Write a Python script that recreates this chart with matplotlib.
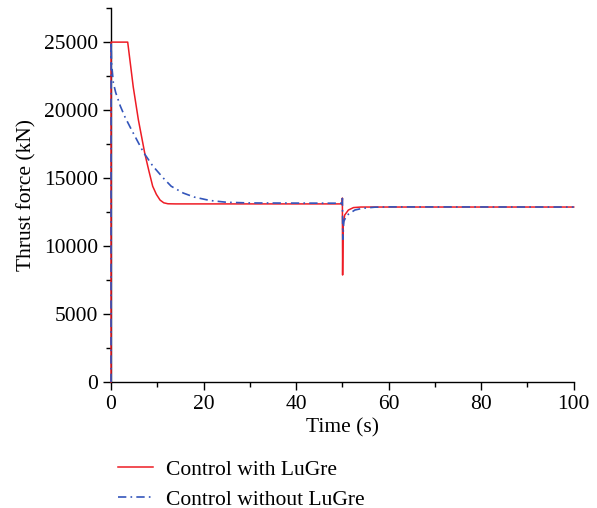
import matplotlib
matplotlib.use("Agg")
import matplotlib.pyplot as plt
from matplotlib.ticker import MultipleLocator

# Thrust force histories (time in s, force in kN)
t_lugre = [0, 0.001, 3.6, 4.8, 5.9, 7.3, 8.2, 9.0, 9.8, 10.6, 11.4, 12.3, 14.0,
           49.95, 50.0, 50.05, 50.15, 50.5, 51.3, 52.4, 54.0, 100]
f_lugre = [0, 25000, 25000, 21700, 19300, 16800, 15500, 14400, 13800, 13380, 13180, 13110, 13100,
           13100, 13530, 7870, 11500, 12280, 12650, 12830, 12870, 12870]

t_plain = [0, 0.02, 0.1, 0.5, 1.0, 2.0, 3.0, 4.5, 7.0, 9.0, 11.3, 13.0, 15.6, 18.0, 21.4,
           25.0, 30.0, 49.95, 50.0, 50.1, 50.3, 50.9, 52.7, 54.4, 57.0, 60.0, 100]
f_plain = [0, 25000, 23500, 22000, 21300, 20300, 19500, 18500, 16900, 15900, 15000, 14400,
           13900, 13600, 13350, 13220, 13170, 13150, 13500, 10500, 11800, 12250, 12650, 12780,
           12860, 12880, 12870]

series_labels = ["Control with LuGre", "Control without LuGre"]
x_label = "Time (s)"
y_label = "Thrust force (kN)"

plt.rcParams["font.family"] = ["Liberation Serif", "DejaVu Serif"]
plt.rcParams["font.size"] = 15.5

fig = plt.figure(figsize=(5.97, 5.08), dpi=100)
ax = fig.add_axes([0.186, 0.248, 0.775, 0.736])

l1, = ax.plot(t_lugre, f_lugre, color="#ee1c25", lw=1.1, label=series_labels[0],
              zorder=3, clip_on=False)
l2, = ax.plot(t_plain, f_plain, color="#3355bb", lw=1.2, dashes=(5, 2.5, 1, 2.5),
              label=series_labels[1], zorder=4, clip_on=False)

ax.set_xlim(0, 100)
ax.set_ylim(0, 27500)
ax.xaxis.set_major_locator(MultipleLocator(20))
ax.xaxis.set_minor_locator(MultipleLocator(10))
ax.yaxis.set_major_locator(MultipleLocator(5000))
ax.yaxis.set_minor_locator(MultipleLocator(2500))
for s in ("top", "right"):
    ax.spines[s].set_visible(False)
for s in ("left", "bottom"):
    ax.spines[s].set_linewidth(1.0)
ax.tick_params(which="major", direction="out", length=6, width=1.0, labelsize=15.5)
ax.tick_params(which="minor", direction="out", length=3.5, width=1.0)

ax.set_xlabel(x_label, fontsize=15.5, labelpad=3)
ax.set_ylabel(y_label, fontsize=15.5, labelpad=5)

fig.legend(handles=[l1, l2], loc="upper left", bbox_to_anchor=(0.183, 0.112),
           frameon=False, fontsize=15.5, handlelength=1.65, handletextpad=0.6,
           labelspacing=0.45, borderaxespad=0)

fig.savefig("out.png", dpi=100)
